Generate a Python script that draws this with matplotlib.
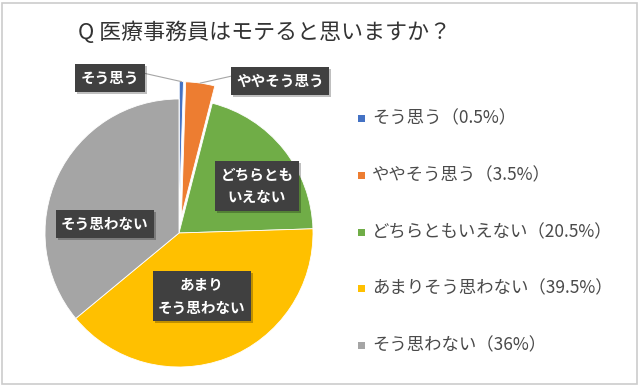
import matplotlib
matplotlib.use("Agg")
import matplotlib.pyplot as plt
import matplotlib.transforms as mtransforms
from matplotlib.patches import Rectangle
import numpy as np

plt.rcParams['font.family'] = ['Noto Sans CJK JP', 'DejaVu Sans']

title = "Q 医療事務員はモテると思いますか？"
categories = ["そう思う", "ややそう思う", "どちらともいえない", "あまりそう思わない", "そう思わない"]
values = [0.5, 3.5, 20.5, 39.5, 36]
value_labels = ["0.5%", "3.5%", "20.5%", "39.5%", "36%"]
slice_labels = ["そう思う", "ややそう思う", "どちらとも\nいえない", "あまり\nそう思わない", "そう思わない"]
colors = ["#4472C4", "#ED7D31", "#70AD47", "#FFC000", "#A5A5A5"]

W, H = 640, 386
fig = plt.figure(figsize=(W / 100, H / 100), dpi=100)
fig.patch.set_facecolor("white")

# frame
fig.patches.append(Rectangle((2 / W, 2 / H), (W - 5) / W, (H - 5) / H, transform=fig.transFigure,
                             fill=False, edgecolor="#cccccc", linewidth=1.2))

cx, cy, r = 179, 233, 134
ax = fig.add_axes([(cx - r) / W, (H - cy - r) / H, 2 * r / W, 2 * r / H])

explode = [0.13, 0.13, 0, 0, 0]
wedges, _ = ax.pie(values, colors=colors, startangle=90, counterclock=False, explode=explode,
                   radius=1, wedgeprops=dict(edgecolor="white", linewidth=0.6))
for w in wedges:
    w.set_clip_on(False)
ax.set_aspect("auto")
ax.set_xlim(-1, 1)
ax.set_ylim(-1, 1)
ax.axis("off")


def px2d(px, py):
    return (px - cx) / r, (cy - py) / r


label_px = [(110, 78), (280, 81), (257, 186), (202, 296), (105, 224)]
shadow_tr = mtransforms.offset_copy(ax.transData, fig=fig, x=2, y=-2, units="dots")
for lab, (px, py) in zip(slice_labels, label_px):
    x, y = px2d(px, py)
    ax.text(x, y, lab, transform=shadow_tr, ha="center", va="center", fontsize=10.5, fontweight="bold",
            color=(0, 0, 0, 0), linespacing=1.5,
            bbox=dict(boxstyle="square,pad=0.38", facecolor="#000000", alpha=0.25, edgecolor="none"))
    ax.text(x, y, lab, ha="center", va="center", fontsize=10.5, fontweight="bold", color="white",
            linespacing=1.5,
            bbox=dict(boxstyle="square,pad=0.38", facecolor="#404040", edgecolor="none"))

# leader lines from slice tips to the two outer labels
angles = []
cum = 0
for v in values:
    mid = 90 - (cum + v / 2) * 3.6
    angles.append(mid)
    cum += v
for i, (bx, by) in [(0, (143, 73)), (1, (232, 76))]:
    a = np.deg2rad(angles[i])
    rr = 1 + explode[i]
    tx, ty = rr * np.cos(a), rr * np.sin(a)
    lx, ly = px2d(bx, by)
    ax.plot([lx, tx], [ly, ty], color="#a6a6a6", linewidth=0.8, clip_on=False, zorder=1)

# legend
leg_y = [118, 175, 232, 288, 345]
for c, cat, vl, ly in zip(colors, categories, value_labels, leg_y):
    fig.patches.append(Rectangle((358 / W, (H - ly - 3.5) / H), 7 / W, 7 / H, transform=fig.transFigure,
                                 facecolor=c, edgecolor="none"))
    fig.text(372 / W, (H - ly) / H, f"{cat}（{vl}）", ha="left", va="center", fontsize=12.5, color="#4a4a4a")

fig.text(265 / W, (H - 33) / H, title, ha="center", va="center", fontsize=15.8, color="#333333")

fig.savefig("out.png", dpi=100)
